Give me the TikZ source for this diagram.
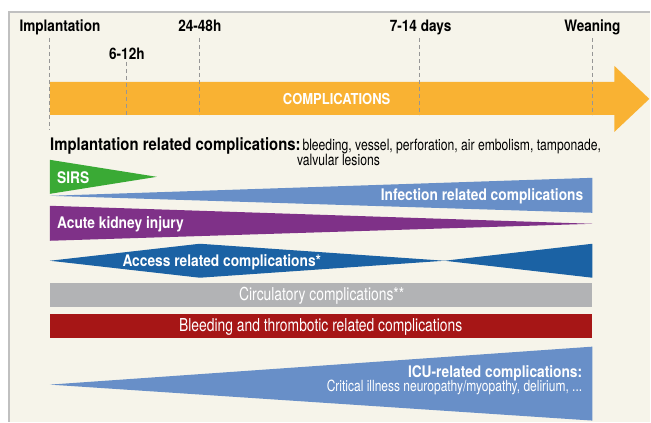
\documentclass[tikz,border=0pt]{standalone}
\usepackage{fontspec}
\setmainfont{TeX Gyre Heros}[FakeStretch=0.78]
\newfontfamily\headfont{TeX Gyre Heros}[FakeStretch=0.86]
\usetikzlibrary{positioning}

\definecolor{paper}{RGB}{246,244,234}
\definecolor{frame}{RGB}{192,192,192}
\definecolor{tickgray}{RGB}{150,150,150}
\definecolor{amber}{RGB}{249,178,51}
\definecolor{sirsgreen}{RGB}{58,170,53}
\definecolor{skyblue}{RGB}{104,143,200}
\definecolor{plum}{RGB}{127,49,136}
\definecolor{navyblue}{RGB}{27,98,164}
\definecolor{silver}{RGB}{178,179,181}
\definecolor{bloodred}{RGB}{166,22,22}

\begin{document}
\begin{tikzpicture}[x=1pt, y=-1pt, inner sep=0pt,
  stage/.style={font=\headfont\bfseries\fontsize{15.8}{17}\selectfont, anchor=base},
  tick/.style={tickgray, dash pattern=on 4pt off 3pt, line width=1.1pt},
  bandlabel/.style={text=white, font=\headfont\bfseries\fontsize{16}{18}\selectfont},
  barlabel/.style={text=white, font=\fontsize{17.8}{19}\selectfont, anchor=base},
  risklabel/.style={font=\fontsize{15.6}{16}\selectfont, anchor=base west}]

  % frame
  \fill[white] (0,0) rectangle (651,422);
  \fill[paper] (9,12) rectangle (651,422);
  \draw[frame, line width=1.3pt] (9,422) -- (9,12) -- (651,12);

  % time points
  \node[stage] (implant) at (60,31.5) {Implantation};
  \node[stage] (early)   at (127,59.5) {6-12h};
  \node[stage] (day1)    at (200,31.5) {24-48h};
  \node[stage] (week)    at (421,31.5) {7-14 days};
  \node[stage] (wean)    at (593,31.5) {Weaning};

  % big arrow
  \fill[amber] (50,82) -- (615,82) -- (615,66) -- (650,99) -- (615,132)
    -- (615,115) -- (50,115) -- cycle;
  \foreach \x/\ya/\yb in {50/38/130, 127/62/115, 200/38/115, 420/38/115, 593/38/115}
    \draw[tick] (\x,\ya) -- (\x,\yb);
  \node[bandlabel, font=\headfont\bfseries\fontsize{15.1}{17}\selectfont] (compl) at (337,99) {COMPLICATIONS};

  % implantation related
  \node[font=\headfont\bfseries\fontsize{17.3}{19}\selectfont, anchor=base west] (implrel) at (50,150.5)
    {Implantation related complications:};
  \node[risklabel] (implrisk) at ([xshift=1.5pt]implrel.base east)
    {bleeding, vessel, perforation, air embolism, tamponade,};
  \node[risklabel] (implriskb) at ([xshift=-4pt, yshift=-15.5pt]implrel.base east)
    {valvular lesions};

  % wedges
  \fill[skyblue] (50,196) -- (593,178) -- (593,213) -- cycle;
  \fill[sirsgreen] (50,160) -- (157,177) -- (50,194) -- cycle;
  \node[bandlabel, anchor=base west] (sirs) at (57,184) {SIRS};
  \node[bandlabel, anchor=base east] (infect) at (584,201) {Infection related complications};

  \fill[plum] (50,206) -- (593,224) -- (50,241) -- cycle;
  \node[bandlabel, anchor=base west] (aki) at (57,229) {Acute kidney injury};

  \fill[navyblue] (50,261) -- (200,244) -- (445,261) -- (593,244) -- (593,278)
    -- (445,261) -- (200,278) -- cycle;
  \node[bandlabel, anchor=base] (access) at (222,267) {Access related complications*};

  % bars
  \fill[silver] (50,283) rectangle (593,307);
  \node[barlabel] (circ) at (322,300.7) {Circulatory complications**};
  \fill[bloodred] (50,314) rectangle (593,338);
  \node[barlabel] (bleed) at (321,331.7) {Bleeding and thrombotic related complications};

  % ICU wedge
  \fill[skyblue] (50,385) -- (593,347) -- (593,421) -- cycle;
  \node[bandlabel, anchor=base east] (icu) at (583,377.7) {ICU-related complications:};
  \node[text=white, font=\fontsize{15.4}{14}\selectfont, anchor=base east]
    (icudetail) at ([yshift=-14.6pt]icu.base east) {Critical illness neuropathy/myopathy, delirium, ...};
\end{tikzpicture}
\end{document}
